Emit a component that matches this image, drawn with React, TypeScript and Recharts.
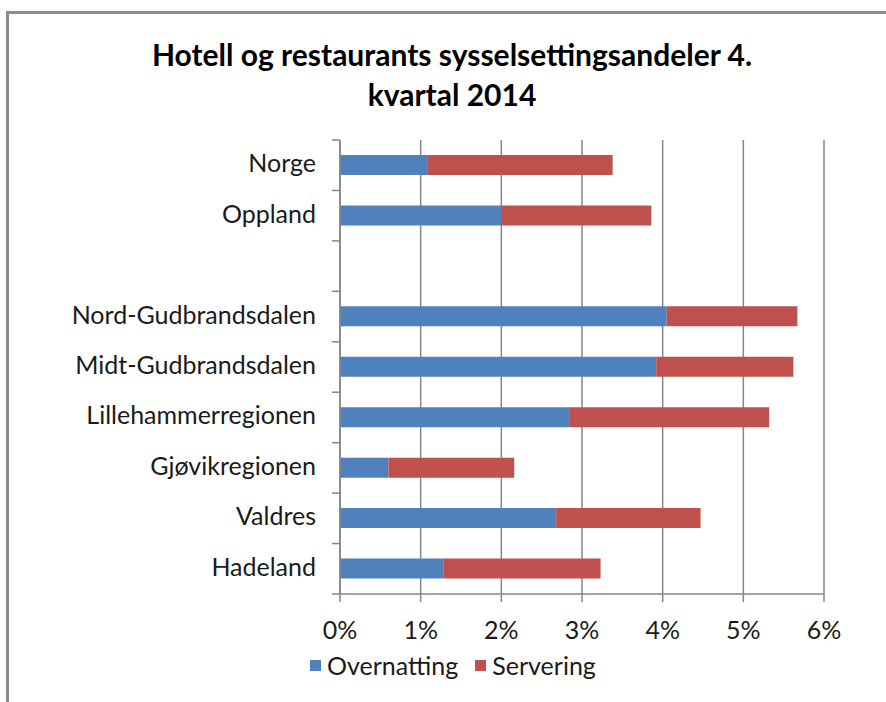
import React from "react";
import { BarChart, Bar, XAxis, YAxis, CartesianGrid, Legend } from "recharts";

// regions, top to bottom (blank row is a spacer between county and regions)
const regions = [
  "Norge",
  "Oppland",
  "",
  "Nord-Gudbrandsdalen",
  "Midt-Gudbrandsdalen",
  "Lillehammerregionen",
  "Gjøvikregionen",
  "Valdres ",
  "Hadeland",
];

// shares in percent
const overnatting = [1.09, 2.0, null, 4.05, 3.92, 2.85, 0.6, 2.68, 1.28];
const servering = [2.29, 1.86, null, 1.62, 1.7, 2.47, 1.56, 1.79, 1.95];

const xTicks = [0, 1, 2, 3, 4, 5, 6];

const BLUE = "#4F81BD";
const RED = "#C0504D";
const GRID = "#868686";
const FONT = "Lato, 'Open Sans', sans-serif";
const LABEL_GAP = 24;

const data = regions.map((name, i) => ({
  name,
  overnatting: overnatting[i],
  servering: servering[i],
}));

// category label plus Excel-style tick marks between categories
function RegionTick(props: any) {
  const { x, y, payload, index } = props;
  const half = payload.offset || 0;
  const axisX = x + LABEL_GAP;
  return (
    <g>
      <line x1={axisX - 8} x2={axisX} y1={y - half} y2={y - half} stroke={GRID} strokeWidth={1.5} />
      {index === regions.length - 1 && (
        <line x1={axisX - 8} x2={axisX} y1={y + half} y2={y + half} stroke={GRID} strokeWidth={1.5} />
      )}
      <text x={x} y={y} dy={7} textAnchor="end" fill="#1a1a1a" fontSize={25} fontFamily={FONT}>
        {payload.value}
      </text>
    </g>
  );
}

function LegendContent() {
  const items = [
    { label: "Overnatting", color: BLUE },
    { label: "Servering", color: RED },
  ];
  return (
    <div style={{ display: "flex", alignItems: "center", fontFamily: FONT, fontSize: 25, color: "#1a1a1a" }}>
      {items.map((it) => (
        <div key={it.label} style={{ display: "flex", alignItems: "center", marginRight: 17 }}>
          <span style={{ display: "inline-block", width: 11, height: 11, background: it.color, marginRight: 6 }} />
          <span>{it.label}</span>
        </div>
      ))}
    </div>
  );
}

export default function App() {
  return (
    <div style={{ position: "absolute", left: 0, top: 0, width: 886, height: 702, background: "#fff", overflow: "hidden" }}>
      {/* chart frame, clipped on right and bottom */}
      <div
        style={{
          position: "absolute",
          left: 6,
          top: 11,
          width: 900,
          height: 720,
          borderLeft: "3px solid #8c8c8c",
          borderTop: "3px solid #8c8c8c",
        }}
      />
      <div
        style={{
          position: "absolute",
          left: 0,
          top: 34,
          width: 904,
          textAlign: "center",
          fontFamily: FONT,
          fontWeight: 700,
          fontSize: 30,
          lineHeight: "40px",
          color: "#000",
        }}
      >
        Hotell og restaurants sysselsettingsandeler 4.
        <br />
        kvartal 2014
      </div>
      <div style={{ position: "absolute", left: 0, top: 0 }}>
        <BarChart
          width={886}
          height={702}
          data={data}
          layout="vertical"
          barSize={20}
          margin={{ top: 140, right: 62, bottom: 38, left: 0 }}
        >
          <CartesianGrid horizontal={false} stroke={GRID} strokeWidth={1.5} />
          <XAxis
            type="number"
            domain={[0, 6]}
            ticks={xTicks}
            tickFormatter={(v) => `${v}%`}
            height={40}
            axisLine={{ stroke: GRID, strokeWidth: 1.5 }}
            tickLine={{ stroke: GRID, strokeWidth: 1.5 }}
            tickSize={8}
            tickMargin={19}
            tick={{ fill: "#1a1a1a", fontSize: 25, fontFamily: FONT }}
            interval={0}
          />
          <YAxis
            type="category"
            dataKey="name"
            width={340}
            axisLine={{ stroke: GRID, strokeWidth: 1.5 }}
            tickLine={false}
            tickSize={0}
            tickMargin={LABEL_GAP}
            tick={<RegionTick />}
            interval={0}
          />
          <Legend
            content={<LegendContent />}
            wrapperStyle={{ position: "absolute", left: 310, top: 650, width: "auto" }}
          />
          <Bar dataKey="overnatting" name="Overnatting" stackId="a" fill={BLUE} isAnimationActive={false} />
          <Bar dataKey="servering" name="Servering" stackId="a" fill={RED} isAnimationActive={false} />
        </BarChart>
      </div>
    </div>
  );
}
